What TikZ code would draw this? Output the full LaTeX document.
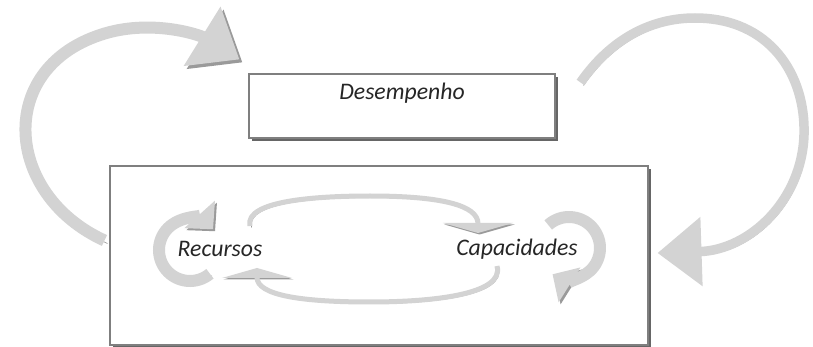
\documentclass[tikz,border=0pt]{standalone}
\usepackage{fontspec}
\setmainfont{Carlito}
\usetikzlibrary{arrows.meta, shadows, calc}

\definecolor{arrowfill}{HTML}{D3D3D3}
\definecolor{arrowshade}{HTML}{9A9A9A}
\definecolor{boxline}{HTML}{7F7F7F}

\begin{document}
\begin{tikzpicture}[x=0.2mm, y=-0.2mm,
  font=\fontsize{13.5}{16}\selectfont\itshape, text=black!85,
  box/.style={draw=boxline, line width=0.6pt, fill=white,
    drop shadow={shadow xshift=0.6mm, shadow yshift=-0.6mm, fill=black!60, opacity=1}},
  shaded/.style={draw=arrowfill,
    preaction={draw=arrowshade, transform canvas={shift={(#1,-#1)}}}},
  bigarrow/.style={shaded=0.6mm, line width=2.4mm, -{Triangle[length=8.8mm, width=13.4mm]}},
  loopar/.style={shaded=0.4mm, line width=2.4mm, -{Triangle[length=4mm, width=8mm]}},
  flatar/.style={shaded=0.3mm, line width=1mm, -{Triangle[length=2mm, width=14mm]}}]
  \useasboundingbox (0,0) rectangle (813,347);

  % boxes
  \node[box, minimum width=107.6mm, minimum height=35.8mm] (sistema) at (379,255.5) {};
  \node[box, minimum width=61.2mm, inner ysep=0pt, text height=5.2mm, text depth=7.6mm]
    (desemp) at (402,106) {Desempenho};
  \node (rec) at (220,249) {Recursos};
  \node (cap) at (517,249) {Capacidades};

  % big arrows
  \draw[bigarrow] ($(sistema.west)+(-5,-15)$) .. controls (5,195) and (-5,70) .. (100,35)
    .. controls (150,18) and (200,35) .. ($(desemp.north west)+(-9,-14)$);
  \draw[bigarrow, line width=1.9mm] ($(desemp.north east)+(25,9)$) .. controls (610,40) and (650,18) .. (695,18)
    .. controls (770,18) and (806,75) .. (804,135)
    .. controls (802,200) and (750,250) .. ($(sistema.east)+(9,-2.5)$);

  % self loops
  \draw[loopar] ($(rec.center)+(-30,1)+(50:31)$) arc[start angle=50, end angle=318, radius=31];
  \draw[loopar] ($(cap.center)+(52,-1)+(228:31)$) arc[start angle=228, end angle=482, radius=31];

  % between rec and cap
  \draw[flatar] ($(rec.center)+(30,-23)$) .. controls (244,200) and (320,196) .. (370,196)
    .. controls (440,196) and (478,205) .. ($(cap.center)+(-39,-16)$);
  \draw[flatar] ($(cap.center)+(-20,17)$) .. controls (505,295) and (430,302) .. (370,302)
    .. controls (300,302) and (257,295) .. ($(rec.center)+(37,19)$);
\end{tikzpicture}
\end{document}
